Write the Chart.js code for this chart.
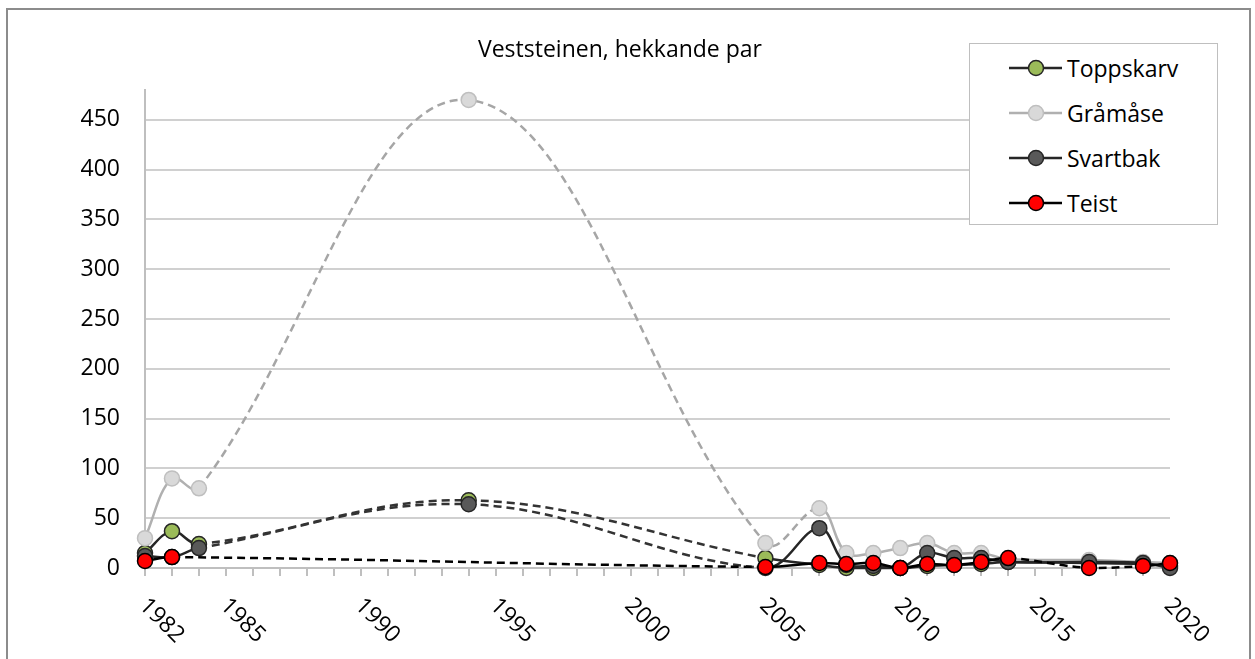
<!DOCTYPE html>
<html>
<head>
<meta charset="utf-8">
<script src="https://cdn.jsdelivr.net/npm/chart.js@4.4.1/dist/chart.umd.min.js"></script>
<style>
  html, body { margin: 0; padding: 0; background: #fff; width: 1255px; height: 659px; overflow: hidden; font-family: "Open Sans", sans-serif; }
  #frame { position: absolute; left: 6px; top: 8px; width: 1241px; height: 700px; border: 2px solid #8c8c8c; }
  #wrap { position: absolute; left: 0; top: 0; width: 1240px; height: 659px; }
  #legend { position: absolute; left: 969px; top: 43px; width: 247px; height: 180px; border: 1.5px solid #bfbfbf; background: #fff; }
  .item { position: absolute; left: 39px; height: 30px; display: flex; align-items: center; font-size: 23px; color: #000; white-space: nowrap; }
  .item svg { margin-right: 5px; }
</style>
</head>
<body>
<div id="frame"></div>
<div id="wrap"><canvas id="chart" width="1240" height="659"></canvas></div>
<div id="legend"></div>
<script>
// ── data ────────────────────────────────────────────────────────────────
const title = 'Veststeinen, hekkande par';
const seriesNames = ['Toppskarv', 'Gråmåse', 'Svartbak', 'Teist'];

const years      = [1982, 1983, 1984, 1994, 2005, 2007, 2008, 2009, 2010, 2011, 2012, 2013, 2014, 2017, 2019, 2020];
const yearsTeist = [1982, 1983, 2005, 2007, 2008, 2009, 2010, 2011, 2012, 2013, 2014, 2017, 2019, 2020];

const toppskarv = [15, 37, 24, 68, 10, 3, 0, 0, 0, 2, 3, 4, 6, 5, 4, 2];
const gramase   = [30, 90, 80, 470, 25, 60, 15, 15, 20, 25, 15, 15, 9, 8, 6, 5];
const svartbak  = [12, 11, 20, 64, 0, 40, 3, 2, 0, 15, 10, 10, 6, 6, 5, 0];
const teist     = [7, 11, 1, 5, 4, 5, 0, 4, 3, 6, 10, 0, 2, 5];

// year a dashed segment starts from (per series)
const dashFromTopp  = [1984, 1994];
const dashFromGraa  = [1984, 1994, 2005];
const dashFromSvart = [1984, 1994];
const dashFromTeist = [1983, 2014, 2017];

const xLabelYears = [1982, 1985, 1990, 1995, 2000, 2005, 2010, 2015, 2020];
const yMax = 480, yStep = 50;

// ── styles ─────────────────────────────────────────────────────────────
const FONT = '"Open Sans", sans-serif';
const styles = [
  { line: '#262626', dash: '#333333', fill: '#9bbb59', edge: '#262626', order: 3 },
  { line: '#b0b0b0', dash: '#a6a6a6', fill: '#d9d9d9', edge: '#bfbfbf', order: 2 },
  { line: '#262626', dash: '#333333', fill: '#595959', edge: '#262626', order: 1 },
  { line: '#000000', dash: '#000000', fill: '#ff0000', edge: '#000000', order: 0 },
];

const pts = (xs, ys) => xs.map((x, i) => ({ x, y: ys[i] }));
const dashSets = [dashFromTopp, dashFromGraa, dashFromSvart, dashFromTeist];
const xsets = [years, years, years, yearsTeist];
const ysets = [toppskarv, gramase, svartbak, teist];

const datasets = seriesNames.map((name, i) => {
  const s = styles[i];
  const isDashed = ctx => dashSets[i].includes(xsets[i][ctx.p0DataIndex]);
  return {
    label: name,
    data: pts(xsets[i], ysets[i]),
    order: s.order,
    clip: false,
    borderColor: s.line,
    borderWidth: 2.5,
    tension: 0.38,
    pointRadius: 7.5,
    pointBorderWidth: 1.5,
    pointBackgroundColor: s.fill,
    pointBorderColor: s.edge,
    segment: {
      borderDash: ctx => isDashed(ctx) ? [8, 5] : undefined,
      borderColor: ctx => isDashed(ctx) ? s.dash : undefined,
    },
  };
});

// title + rotated x labels (clockwise), x labels at the scale's own pixel per year
const textPlugin = {
  id: 'texts',
  afterDraw(chart) {
    const { ctx, scales: { x }, chartArea } = chart;
    ctx.save();
    ctx.font = '23px ' + FONT;
    ctx.fillStyle = '#000';
    ctx.textAlign = 'center';
    ctx.textBaseline = 'middle';
    ctx.fillText(title, 620, 50);
    ctx.textAlign = 'left';
    ctx.textBaseline = 'alphabetic';
    xLabelYears.forEach(yr => {
      const px = x.getPixelForValue(yr);
      ctx.save();
      ctx.translate(px + 5, chartArea.bottom + 27);
      ctx.rotate(Math.PI / 4);
      ctx.fillText(String(yr), 0, 16.5);
      ctx.restore();
    });
    ctx.restore();
  }
};

new Chart(document.getElementById('chart'), {
  type: 'line',
  data: { datasets },
  options: {
    responsive: false,
    animation: false,
    layout: { padding: { left: 0, right: 70, top: 90, bottom: 0 } },
    plugins: {
      legend: { display: false },
      tooltip: { enabled: false },
      title: { display: false }
    },
    scales: {
      x: {
        type: 'linear', min: 1982, max: 2020,
        ticks: { stepSize: 1, autoSkip: false, display: false },
        grid: { drawOnChartArea: false, drawTicks: true, tickLength: 8, color: '#bfbfbf', lineWidth: 2 },
        border: { color: '#bfbfbf', width: 2 },
        afterFit: s => { s.height = 91; }
      },
      y: {
        min: 0, max: yMax,
        afterBuildTicks: s => { s.ticks = s.ticks.filter(t => t.value % yStep === 0); },
        ticks: { stepSize: yStep, padding: 25, color: '#000', font: { family: FONT, size: 23 } },
        grid: { drawTicks: false, color: '#d0d0d0', lineWidth: 2 },
        border: { color: '#bfbfbf', width: 2 },
        afterFit: s => { s.width = 145; }
      }
    }
  },
  plugins: [textPlugin]
});

// ── legend (html) ──────────────────────────────────────────────────────
const legendEl = document.getElementById('legend');
const rowTops = [9, 54, 99, 144];
legendEl.innerHTML = seriesNames.map((name, i) => {
  const s = styles[i];
  return `<div class="item" style="top:${rowTops[i]}px">
    <svg width="53" height="20"><line x1="0" y1="10" x2="53" y2="10" stroke="${s.line}" stroke-width="2.5"/>
    <circle cx="27" cy="10" r="7.5" fill="${s.fill}" stroke="${s.edge}" stroke-width="1.5"/></svg>${name}</div>`;
}).join('');
</script>
</body>
</html>
